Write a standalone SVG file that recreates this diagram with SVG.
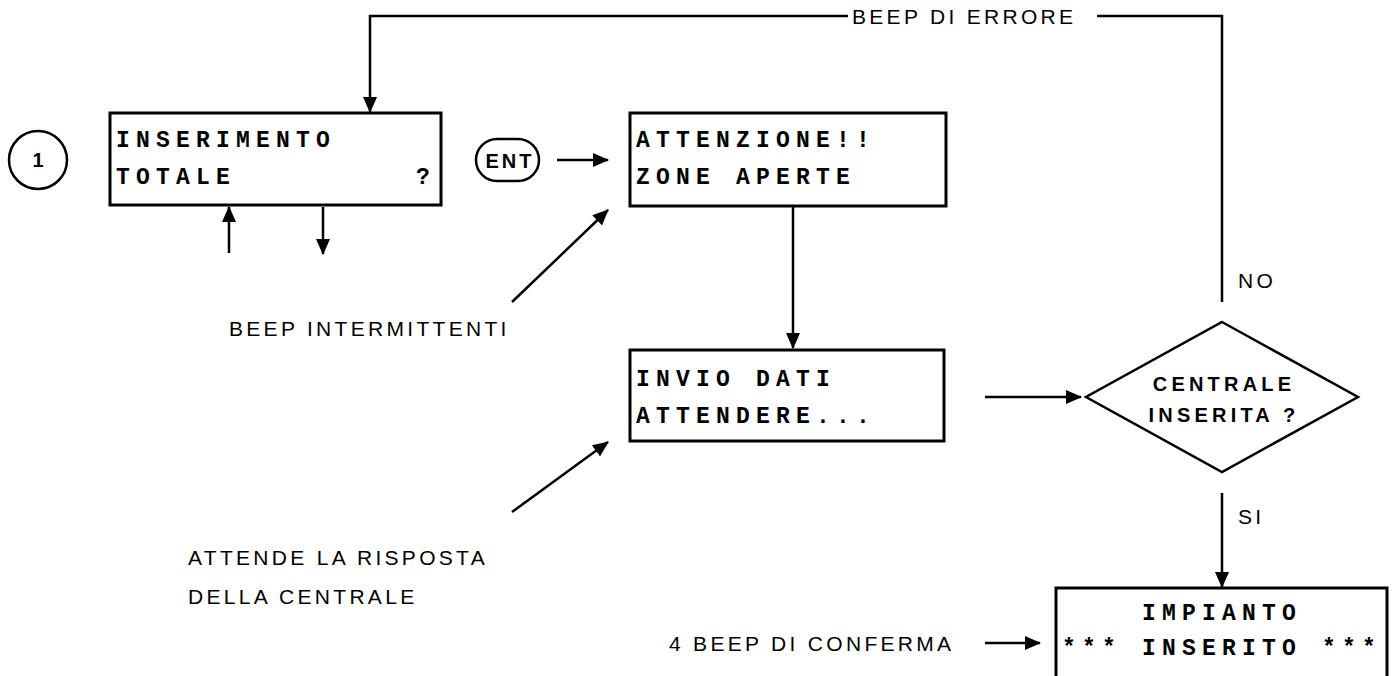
<svg xmlns="http://www.w3.org/2000/svg" width="1394" height="676" viewBox="0 0 1394 676">
<style>
.box{fill:#fff;stroke:#000;stroke-width:3}
.ln{fill:none;stroke:#000;stroke-width:2.5}
.lcd{font-family:"Liberation Mono","DejaVu Sans Mono",monospace;font-weight:bold;font-size:23px;letter-spacing:6.2px;fill:#000}
.lbl{font-family:"Liberation Sans",Arial,sans-serif;font-size:21px;letter-spacing:3.3px;fill:#000}
.bold{font-family:"Liberation Sans",Arial,sans-serif;font-weight:bold;fill:#000}
</style>
<defs>
<marker id="ah" markerWidth="16" markerHeight="14" refX="15" refY="7" orient="auto" markerUnits="userSpaceOnUse">
<path d="M0,0 L16,7 L0,14 Z" fill="#000"/>
</marker>
</defs>
<rect width="1394" height="676" fill="#fff"/>
<g id="connectors">
<polyline class="ln" points="1222,302 1222,16 1097,16"/>
<polyline class="ln" points="848,16 370,16 370,112" marker-end="url(#ah)"/>
<line class="ln" x1="229" y1="253" x2="229" y2="207" marker-end="url(#ah)"/>
<line class="ln" x1="323" y1="207" x2="323" y2="254" marker-end="url(#ah)"/>
<line class="ln" x1="557" y1="160" x2="608" y2="160" marker-end="url(#ah)"/>
<line class="ln" x1="512" y1="302" x2="608" y2="210" marker-end="url(#ah)"/>
<line class="ln" x1="793" y1="206" x2="793" y2="348" marker-end="url(#ah)"/>
<line class="ln" x1="512" y1="512" x2="608" y2="442" marker-end="url(#ah)"/>
<line class="ln" x1="985" y1="397" x2="1081" y2="397" marker-end="url(#ah)"/>
<line class="ln" x1="1222" y1="493" x2="1222" y2="587" marker-end="url(#ah)"/>
<line class="ln" x1="985" y1="643" x2="1040" y2="643" marker-end="url(#ah)"/>
<text class="lbl" x="852" y="24" letter-spacing="5">BEEP DI ERRORE</text>
<text class="lbl" x="1238" y="288">NO</text>
<text class="lbl" x="1238" y="524">SI</text>
</g>
<g id="n-step">
<circle cx="38" cy="160" r="29" fill="#fff" stroke="#000" stroke-width="2.5"/>
<text class="bold" x="38" y="167" font-size="20" text-anchor="middle">1</text>
</g>
<g id="n-inserimento">
<rect class="box" x="110" y="113" width="331" height="92"/>
<text class="lcd" x="116" y="147">INSERIMENTO</text>
<text class="lcd" x="116" y="184">TOTALE</text>
<text class="lcd" x="416" y="184">?</text>
</g>
<g id="n-ent">
<rect x="476" y="139" width="63" height="42" rx="21" fill="#fff" stroke="#000" stroke-width="2.5"/>
<text class="bold" x="510" y="168" font-size="20" letter-spacing="3" text-anchor="middle">ENT</text>
</g>
<g id="n-attenzione">
<rect class="box" x="630" y="113" width="316" height="93"/>
<text class="lcd" x="636" y="147">ATTENZIONE!!</text>
<text class="lcd" x="636" y="184">ZONE APERTE</text>
</g>
<g id="n-invio">
<rect class="box" x="630" y="350" width="314" height="91"/>
<text class="lcd" x="636" y="386">INVIO DATI</text>
<text class="lcd" x="636" y="423">ATTENDERE...</text>
</g>
<g id="n-centrale">
<polygon points="1222,322 1358,397 1222,472 1086,397" fill="#fff" stroke="#000" stroke-width="2.5"/>
<text class="bold" x="1224" y="391" font-size="20" letter-spacing="4.2" text-anchor="middle">CENTRALE</text>
<text class="bold" x="1224" y="422" font-size="20" letter-spacing="4.2" text-anchor="middle">INSERITA ?</text>
</g>
<g id="n-impianto">
<rect class="box" x="1056" y="588" width="331" height="100"/>
<text class="lcd" x="1142" y="620">IMPIANTO</text>
<text class="lcd" x="1062" y="655">*** INSERITO ***</text>
</g>
<g id="n-beep-int">
<text class="lbl" x="229" y="336">BEEP INTERMITTENTI</text>
</g>
<g id="n-attende">
<text class="lbl" x="188" y="565">ATTENDE LA RISPOSTA</text>
<text class="lbl" x="188" y="604">DELLA CENTRALE</text>
</g>
<g id="n-conferma">
<text class="lbl" x="669" y="651">4 BEEP DI CONFERMA</text>
</g>
</svg>
